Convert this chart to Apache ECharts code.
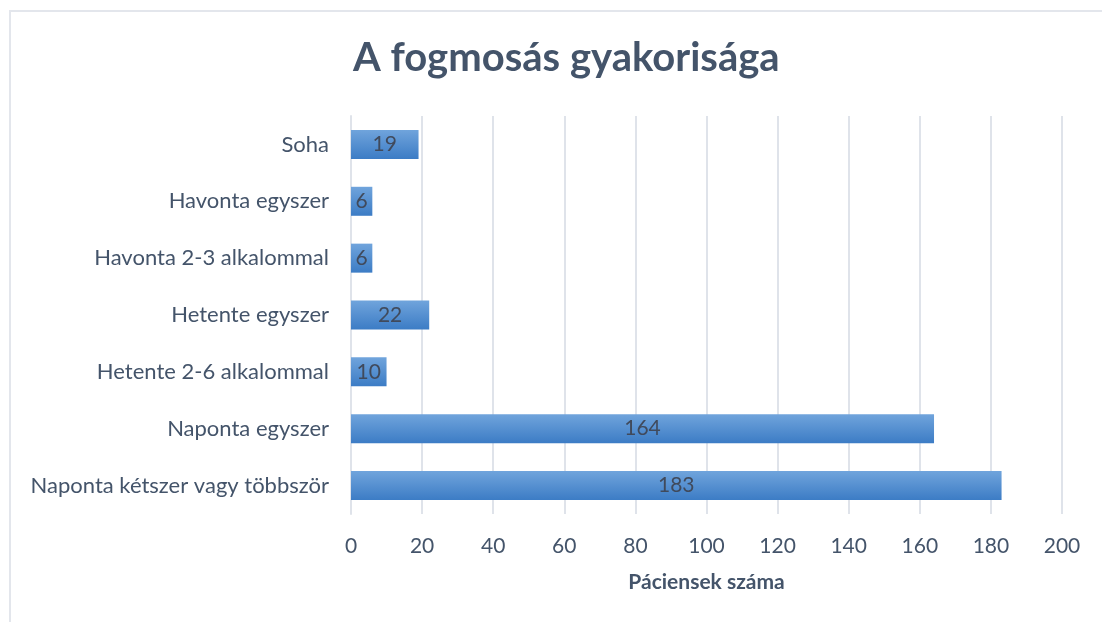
<!DOCTYPE html>
<html><head><meta charset="utf-8">
<script src="https://cdn.jsdelivr.net/npm/echarts@6/dist/echarts.min.js"></script>
<style>html,body{margin:0;padding:0;background:#fff}#c{width:1102px;height:622px}
#frame{position:absolute;left:9px;top:10px;width:1100px;height:620px;border-left:2px solid #e3e6ec;border-top:2px solid #e3e6ec;pointer-events:none}</style>
</head><body><div id="c"></div><div id="frame"></div>
<script>
const categories = ["Naponta kétszer vagy többször","Naponta egyszer","Hetente 2-6 alkalommal","Hetente egyszer","Havonta 2-3 alkalommal","Havonta egyszer","Soha"];
const values = [183,164,10,22,6,6,19];
const xTicks = [0,20,40,60,80,100,120,140,160,180,200];
const FONT = 'Lato, "Open Sans", sans-serif';
const TXT = '#44546a';
const chart = echarts.init(document.getElementById('c'));
chart.setOption({
  animation:false,
  title:{text:'A fogmosás gyakorisága',left:348,top:33,textStyle:{fontFamily:FONT,fontSize:40,fontWeight:'bold',color:TXT}},
  grid:{left:351,right:40,top:116,bottom:108,containLabel:false},
  xAxis:{type:'value',min:xTicks[0],max:xTicks[xTicks.length-1],interval:20,
    name:'Páciensek száma',nameLocation:'middle',nameGap:58,
    nameTextStyle:{fontFamily:FONT,fontSize:21,fontWeight:'bold',color:TXT},
    axisLine:{show:false},axisTick:{show:false},
    axisLabel:{fontFamily:FONT,fontSize:21,color:TXT,margin:22},
    splitLine:{lineStyle:{color:'#dfe3ea',width:2}}},
  yAxis:{type:'category',data:categories,
    axisLine:{show:true,lineStyle:{color:'#dfe3ea',width:2}},axisTick:{show:false},
    axisLabel:{fontFamily:FONT,fontSize:22,color:TXT,margin:22}},
  series:[{type:'bar',data:values,barWidth:29,
    itemStyle:{color:new echarts.graphic.LinearGradient(0,0,0,1,[{offset:0,color:'#70a4dc'},{offset:1,color:'#3c7cc5'}])},
    label:{show:true,position:'inside',fontFamily:FONT,fontSize:21,color:'#404a5c'}}]
});
</script></body></html>
